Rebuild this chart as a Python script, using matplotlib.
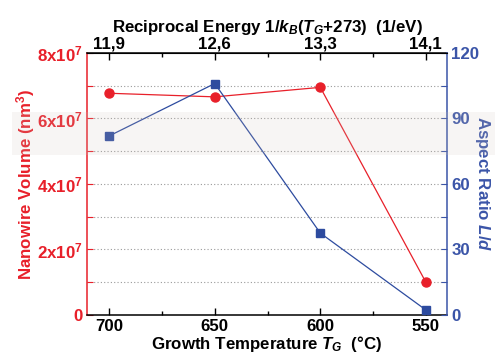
import matplotlib
matplotlib.use("Agg")
import matplotlib.pyplot as plt
from matplotlib.patches import Rectangle

plt.rcParams['font.family'] = ['Liberation Sans', 'DejaVu Sans']
plt.rcParams['font.weight'] = 'bold'
plt.rcParams['mathtext.fontset'] = 'custom'
plt.rcParams['mathtext.rm'] = 'Liberation Sans:bold'
plt.rcParams['mathtext.bf'] = 'Liberation Sans:bold'
plt.rcParams['mathtext.it'] = 'Liberation Sans:italic:bold'

# Growth temperature (deg C) and measured quantities
temperature = [700, 650, 600, 550]
volume = [6.77e7, 6.66e7, 6.95e7, 1.0e7]
aspect_ratio = [82, 106, 37.5, 2.3]

# Reciprocal energy labels for the top axis
recip_labels = ["11,9", "12,6", "13,3", "14,1"]

vol_ticks = [0, 2e7, 4e7, 6e7, 8e7]
vol_labels = ["0", r"2x10$^{7}$", r"4x10$^{7}$", r"6x10$^{7}$", r"8x10$^{7}$"]
ar_ticks = [0, 30, 60, 90, 120]

RED = "#e8202a"
BLUE = "#2d4b9f"
AXBLUE = "#3b55a8"
FS = 12.2


def embolden(labels):
    for lbl in labels:
        lbl.set_fontweight("bold")


fig = plt.figure(figsize=(4.95, 3.56), dpi=100)
ax = fig.add_axes([0.1758, 0.1152, 0.7272, 0.7360])

ax.set_xlim(710.5, 540)
ax.set_ylim(0, 8e7)

# dotted grid
for g in range(1, 8):
    ax.axhline(g * 1e7, color="#9a9a9a", lw=0.8, ls=(0, (1, 2)), zorder=0)

ax.plot(temperature, volume, color=RED, lw=0.9, marker="o", ms=6.5,
        mec=RED, mfc=RED, zorder=3)

ax.set_xticks(temperature)
ax.set_xticks([675, 625, 575], minor=True)
ax.set_xticklabels([str(t) for t in temperature])
ax.set_yticks(vol_ticks)
ax.set_yticks([1e7, 3e7, 5e7, 7e7], minor=True)
ax.set_yticklabels(vol_labels)

ax.tick_params(axis="x", which="major", direction="in", length=5, width=1,
               labelsize=FS, pad=3, colors="black")
ax.tick_params(axis="x", which="minor", direction="in", length=3, width=1)
ax.tick_params(axis="y", which="both", direction="in", length=4, width=0.8,
               colors=RED, labelsize=FS, pad=3)
embolden(ax.get_xticklabels() + ax.get_yticklabels())

for s in ("top", "bottom"):
    ax.spines[s].set_color("black")
    ax.spines[s].set_linewidth(1.1)
ax.spines["left"].set_color(RED)
ax.spines["left"].set_linewidth(1.1)
ax.spines["right"].set_visible(False)

ax.set_xlabel(r"Growth Temperature $T_{G}$  (°C)", fontsize=FS,
              fontweight="bold", labelpad=0)
ax.set_ylabel(r"Nanowire Volume (nm$^{3}$)", fontsize=FS, color=RED,
              fontweight="bold", labelpad=0)

# right axis: aspect ratio
ax2 = ax.twinx()
ax2.set_ylim(0, 120)
ax2.plot(temperature, aspect_ratio, color=BLUE, lw=0.9, marker="s", ms=5.5,
         mec=BLUE, mfc=BLUE, zorder=3)
ax2.set_yticks(ar_ticks)
ax2.set_yticks([15, 45, 75, 105], minor=True)
ax2.tick_params(axis="y", which="both", direction="in", length=4, width=0.8,
                colors=AXBLUE, labelsize=FS, pad=3)
embolden(ax2.get_yticklabels())
for s in ("top", "bottom", "left"):
    ax2.spines[s].set_visible(False)
ax2.spines["right"].set_color(AXBLUE)
ax2.spines["right"].set_linewidth(1.1)
ax2.set_ylabel(r"Aspect Ratio $\mathit{L/d}$", fontsize=FS, color=AXBLUE,
               fontweight="bold", rotation=270, labelpad=9)

# top axis: reciprocal energy
ax3 = ax.twiny()
ax3.set_xlim(ax.get_xlim())
ax3.set_xticks(temperature)
ax3.set_xticks([675, 625, 575], minor=True)
ax3.set_xticklabels(recip_labels)
ax3.tick_params(axis="x", which="major", direction="in", length=5, width=1,
                labelsize=FS, pad=1)
ax3.tick_params(axis="x", which="minor", direction="in", length=3, width=1)
embolden(ax3.get_xticklabels())
for s in ("bottom", "left", "right"):
    ax3.spines[s].set_visible(False)
ax3.set_xlabel(r"Reciprocal Energy $\mathit{1/k_{B}(T_{G}}$+$\mathit{273)}$  (1/eV)",
               fontsize=FS, fontweight="bold", labelpad=3)

# light haze band across the figure
fig.patches.append(Rectangle((0.025, (356 - 155) / 356), 0.975, 43 / 356,
                             transform=fig.transFigure, facecolor="#cfc2bb",
                             alpha=0.16, edgecolor="none", zorder=10))

fig.savefig("out.png", dpi=100)
